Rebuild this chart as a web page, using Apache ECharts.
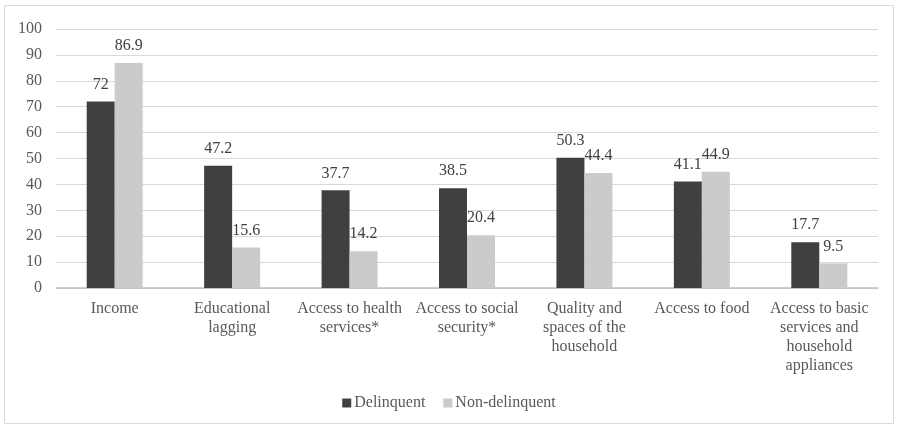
<!DOCTYPE html>
<html><head><meta charset="utf-8">
<script src="https://cdn.jsdelivr.net/npm/echarts@6/dist/echarts.min.js"></script>
<style>html,body{margin:0;padding:0;background:#fff}#c{width:898px;height:429px}</style>
</head><body><div id="c"></div>
<script>
const categories = ["Income","Educational\nlagging","Access to health\nservices*","Access to social\nsecurity*","Quality and\nspaces of the\nhousehold","Access to food","Access to basic\nservices and\nhousehold\nappliances"];
const delinquent = [72, 47.2, 37.7, 38.5, 50.3, 41.1, 17.7];
const nonDelinquent = [86.9, 15.6, 14.2, 20.4, 44.4, 44.9, 9.5];
const font = '"Liberation Serif","Times New Roman",serif';
const chart = echarts.init(document.getElementById('c'), null, {renderer:'canvas'});
chart.setOption({
  animation:false,
  textStyle:{fontFamily:font},
  graphic:[{type:'rect',shape:{x:4.5,y:5.5,width:889,height:418},style:{fill:'none',stroke:'#d9d9d9',lineWidth:1},silent:true}],
  grid:{left:56,right:20,top:29,bottom:141,containLabel:false},
  legend:{bottom:13,left:'center',itemWidth:9,itemHeight:9,itemGap:18,icon:'rect',
    textStyle:{fontFamily:font,fontSize:16,color:'#595959',padding:[0,0,0,-2]},
    data:['Delinquent','Non-delinquent']},
  xAxis:{type:'category',data:categories,
    axisLine:{lineStyle:{color:'#bfbfbf',width:1.5}},axisTick:{show:false},
    axisLabel:{interval:0,fontFamily:font,fontSize:16,color:'#595959',lineHeight:19,margin:11}},
  yAxis:{type:'value',min:0,max:100,interval:10,
    axisLine:{show:false},axisTick:{show:false},
    splitLine:{lineStyle:{color:'#d9d9d9'}},
    axisLabel:{fontFamily:font,fontSize:16,color:'#595959',margin:14}},
  series:[
    {name:'Delinquent',type:'bar',data:delinquent,barWidth:28,barGap:'0%',
     itemStyle:{color:'#404040'},
     label:{show:true,position:'top',distance:9,fontFamily:font,fontSize:16,color:'#404040'}},
    {name:'Non-delinquent',type:'bar',data:nonDelinquent,barWidth:28,
     itemStyle:{color:'#cbcbcb'},
     label:{show:true,position:'top',distance:9,fontFamily:font,fontSize:16,color:'#404040'}}
  ]
});
</script></body></html>
